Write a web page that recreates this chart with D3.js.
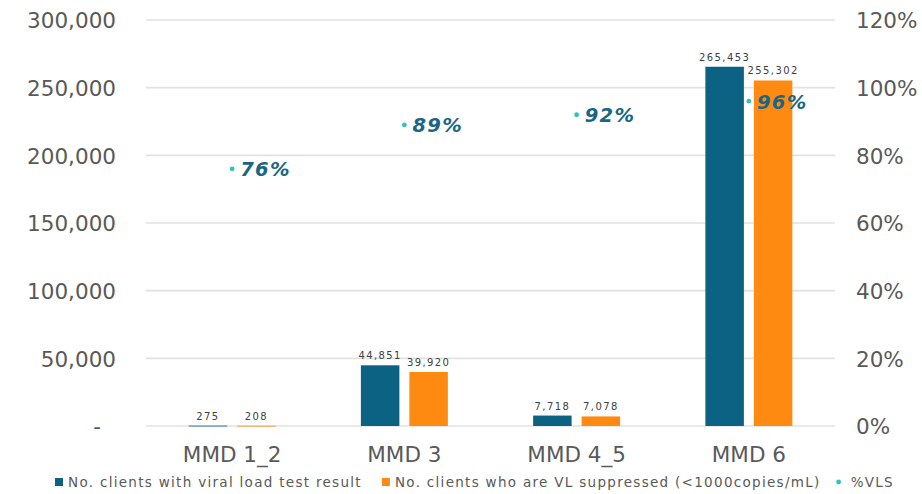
<!DOCTYPE html>
<html>
<head>
<meta charset="utf-8">
<script src="https://cdn.jsdelivr.net/npm/d3@7"></script>
<style>
  html, body { margin: 0; padding: 0; background: #fff; }
  svg { display: block; font-family: "DejaVu Sans", Verdana, sans-serif; }
</style>
</head>
<body>
<svg id="chart" width="922" height="494"></svg>
<script>
// Categories (MMD = multi-month dispensing)
const categories = ["MMD 1_2", "MMD 3", "MMD 4_5", "MMD 6"];
// Clients with a viral load test result
const testedValues = [275, 44851, 7718, 265453];
// Clients who are VL suppressed (<1000 copies/mL)
const suppressedValues = [208, 39920, 7078, 255302];
// Viral load suppression rate, %
const vlsPercent = [76, 89, 92, 96];

const seriesNames = [
  "No. clients with viral load test result",
  "No. clients who are VL suppressed (<1000copies/mL)"
];
const leftTicks = [0, 50000, 100000, 150000, 200000, 250000, 300000];
const rightTicks = [0, 0.2, 0.4, 0.6, 0.8, 1.0, 1.2];

const colors = { tested: "#0b6282", suppressed: "#ff8a12", vls: "#2ec2bf", vlsText: "#1a6685" };

const svg = d3.select("#chart");
const plot = { left: 146, right: 835, top: 20, bottom: 426 };

const x0 = d3.scaleBand().domain(categories)
  .range([plot.left, plot.right]).paddingInner(0.495).paddingOuter(0.2475);
const x1 = d3.scaleBand().domain(["tested", "suppressed"])
  .range([0, x0.bandwidth()]).paddingInner(0.206);
const yL = d3.scaleLinear().domain([0, 300000]).range([plot.bottom, plot.top]);
const yR = d3.scaleLinear().domain([0, 1.2]).range([plot.bottom, plot.top]);
const xc = c => x0(c) + x0.bandwidth() / 2;

// Gridlines
svg.append("g").selectAll("line").data(leftTicks).join("line")
  .attr("x1", plot.left).attr("x2", plot.right)
  .attr("y1", d => yL(d)).attr("y2", d => yL(d))
  .attr("stroke", "#e2e2e2").attr("stroke-width", 1.6);

// Left axis (zero shown as a dash, accounting style)
const fmt = d3.format(",");
const leftAxis = d3.axisLeft(yL).tickValues(leftTicks).tickSize(0).tickPadding(0)
  .tickFormat(d => d === 0 ? "-" : fmt(d));
const gL = svg.append("g").attr("transform", `translate(116,0)`).call(leftAxis);
gL.select(".domain").remove();
gL.selectAll("text").attr("fill", "#595959").attr("font-size", "21.5px")
  .attr("font-family", "DejaVu Sans").attr("dy", "0.36em")
  .attr("dx", d => d === 0 ? -15 : 0);

// Right axis
const rightAxis = d3.axisRight(yR).tickValues(rightTicks).tickSize(0).tickPadding(0)
  .tickFormat(d3.format(".0%"));
const gR = svg.append("g").attr("transform", `translate(856,0)`).call(rightAxis);
gR.select(".domain").remove();
gR.selectAll("text").attr("fill", "#595959").attr("font-size", "21.5px")
  .attr("font-family", "DejaVu Sans").attr("dy", "0.36em");

// Category axis
const catAxis = d3.axisBottom(x0).tickSize(0).tickPadding(0);
const gX = svg.append("g").attr("transform", `translate(0,${plot.bottom})`).call(catAxis);
gX.select(".domain").remove();
gX.selectAll("text").attr("fill", "#595959").attr("font-size", "21.5px")
  .attr("font-family", "DejaVu Sans").attr("dy", "0").attr("y", 36);

// Bars with value labels
const rows = categories.map((c, i) => ({ c, tested: testedValues[i], suppressed: suppressedValues[i], pct: vlsPercent[i] }));
const groups = svg.append("g").selectAll("g").data(rows).join("g")
  .attr("transform", d => `translate(${x0(d.c)},0)`);
["tested", "suppressed"].forEach(k => {
  groups.append("rect")
    .attr("x", x1(k)).attr("width", x1.bandwidth())
    .attr("y", d => yL(d[k])).attr("height", d => Math.max(0.8, yL(0) - yL(d[k])))
    .attr("fill", colors[k]);
  groups.append("text")
    .attr("x", x1(k) + x1.bandwidth() / 2)
    .attr("y", d => yL(d[k]) - 6)
    .attr("text-anchor", "middle")
    .attr("font-size", "10px").attr("letter-spacing", "1.4px")
    .attr("fill", "#404040")
    .text(d => fmt(d[k]));
});

// %VLS points and labels
const pts = svg.append("g").selectAll("g").data(rows).join("g")
  .attr("transform", d => `translate(${xc(d.c)},${yR(d.pct / 100)})`);
pts.append("circle").attr("r", 2.4).attr("fill", colors.vls);
pts.append("text")
  .attr("x", 8).attr("dy", "0.38em")
  .attr("font-size", "19.5px").attr("font-weight", "bold").attr("font-style", "italic")
  .attr("letter-spacing", "1.4px")
  .attr("fill", colors.vlsText)
  .text(d => d.pct + "%");

// Legend
const legend = svg.append("g").attr("transform", "translate(55,0)");
let lx = 0;
const items = [
  { label: seriesNames[0], type: "rect", color: colors.tested },
  { label: seriesNames[1], type: "rect", color: colors.suppressed },
  { label: "%VLS", type: "dot", color: colors.vls }
];
items.forEach(it => {
  const g = legend.append("g").attr("transform", `translate(${lx},0)`);
  let tx = 13;
  if (it.type === "rect") {
    g.append("rect").attr("x", 0).attr("y", 478).attr("width", 8).attr("height", 8).attr("fill", it.color);
  } else {
    g.append("circle").attr("cx", -2).attr("cy", 482).attr("r", 2.4).attr("fill", it.color);
    tx = 10;
  }
  const t = g.append("text").attr("x", tx).attr("y", 487)
    .attr("font-size", "13.5px").attr("letter-spacing", "1.3px").attr("fill", "#595959")
    .text(it.label);
  lx += tx + t.node().getComputedTextLength() + 20;
});
</script>
</body>
</html>
